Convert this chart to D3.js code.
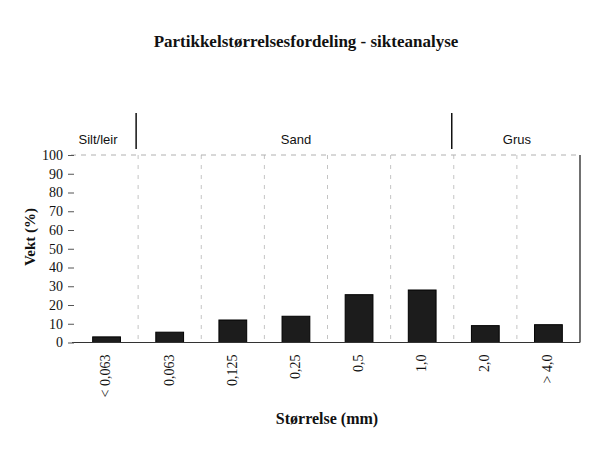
<!DOCTYPE html>
<html><head><meta charset="utf-8">
<script src="https://cdn.jsdelivr.net/npm/d3@7"></script>
<style>body{margin:0;background:#fff}svg{display:block}text{font-family:"Liberation Serif","DejaVu Serif",serif;fill:#111}</style>
</head><body>
<script>
const categories = ["< 0,063","0,063","0,125","0,25","0,5","1,0","2,0","> 4,0"];
const values = [3, 5.5, 12, 14, 25.5, 28, 9, 9.5];
const yTicks = [0,10,20,30,40,50,60,70,80,90,100];
const groups = [
  {name:"Silt/leir", from:0, to:1},
  {name:"Sand", from:1, to:6},
  {name:"Grus", from:6, to:8}
];
const W=596,H=454;
const m={left:75,right:16,top:155,bottom:111.5};
const svg=d3.select("body").append("svg").attr("width",W).attr("height",H);
const x=d3.scaleBand().domain(categories).range([m.left,W-m.right]).paddingInner(0.56).paddingOuter(0.28);
const y=d3.scaleLinear().domain([0,100]).range([H-m.bottom,m.top]);
const step=x.step();
const bx=i=>m.left+i*step;
// vertical dashed gridlines at category boundaries
svg.append("g").selectAll("line").data(d3.range(1,categories.length)).join("line")
  .attr("x1",i=>bx(i)).attr("x2",i=>bx(i)).attr("y1",y(100)).attr("y2",y(0))
  .attr("stroke","#c4c4c4").attr("stroke-width",1).attr("stroke-dasharray","4,6");
// top dashed line
svg.append("line").attr("x1",m.left-4).attr("x2",W-m.right).attr("y1",y(100)).attr("y2",y(100))
  .attr("stroke","#b0b0b0").attr("stroke-dasharray","5,5");
// right border
svg.append("line").attr("x1",W-m.right).attr("x2",W-m.right).attr("y1",y(100)).attr("y2",y(0))
  .attr("stroke","#111").attr("stroke-width",1.2);
// bars
svg.append("g").selectAll("rect").data(values).join("rect")
  .attr("x",(d,i)=>x(categories[i])).attr("width",x.bandwidth())
  .attr("y",d=>y(d)).attr("height",d=>y(0)-y(d))
  .attr("fill","#1c1c1c").attr("stroke","#000");
// bottom axis line
svg.append("line").attr("x1",m.left-3).attr("x2",W-m.right).attr("y1",y(0)).attr("y2",y(0))
  .attr("stroke","#333").attr("stroke-width",1.2);
// y axis
const ya=d3.axisLeft(y).tickValues(yTicks).tickSize(6).tickPadding(5);
const gy=svg.append("g").attr("transform",`translate(${m.left-1},0)`).call(ya);
gy.select(".domain").remove();
gy.selectAll("line").attr("stroke","#555");
gy.selectAll("text").style("font-size","14px").style("font-family","Liberation Serif").attr("fill","#111");
// x axis labels
const xa=d3.axisBottom(x).tickSize(0).tickPadding(0);
const gx=svg.append("g").attr("transform",`translate(0,${y(0)})`).call(xa);
gx.select(".domain").remove();
gx.selectAll("text").attr("transform","rotate(-90)").attr("text-anchor","end")
  .attr("x",-12).attr("y",-1).attr("dy","0.35em")
  .style("font-size","14px").style("font-family","Liberation Serif").attr("fill","#111");
// group separators and labels
svg.append("g").selectAll("line").data(groups.slice(1)).join("line")
  .attr("x1",d=>bx(d.from)-2).attr("x2",d=>bx(d.from)-2).attr("y1",113).attr("y2",149)
  .attr("stroke","#111").attr("stroke-width",1.5);
svg.append("g").selectAll("text").data(groups).join("text")
  .attr("x",(d,i)=>i===0?m.left+23:(bx(d.from)+bx(d.to))/2)
  .attr("y",144).attr("text-anchor","middle")
  .style("font-family","Liberation Sans").style("font-size","13px").text(d=>d.name);
// title
svg.append("text").attr("x",306).attr("y",47).attr("text-anchor","middle")
  .style("font-size","17px").style("font-weight","bold").text("Partikkelstørrelsesfordeling - sikteanalyse");
// axis titles
svg.append("text").attr("transform",`translate(35,237) rotate(-90)`).attr("text-anchor","middle")
  .style("font-size","15px").style("font-weight","bold").text("Vekt (%)");
svg.append("text").attr("x",327).attr("y",424).attr("text-anchor","middle")
  .style("font-size","16px").style("font-weight","bold").text("Størrelse (mm)");
</script>
</body></html>
